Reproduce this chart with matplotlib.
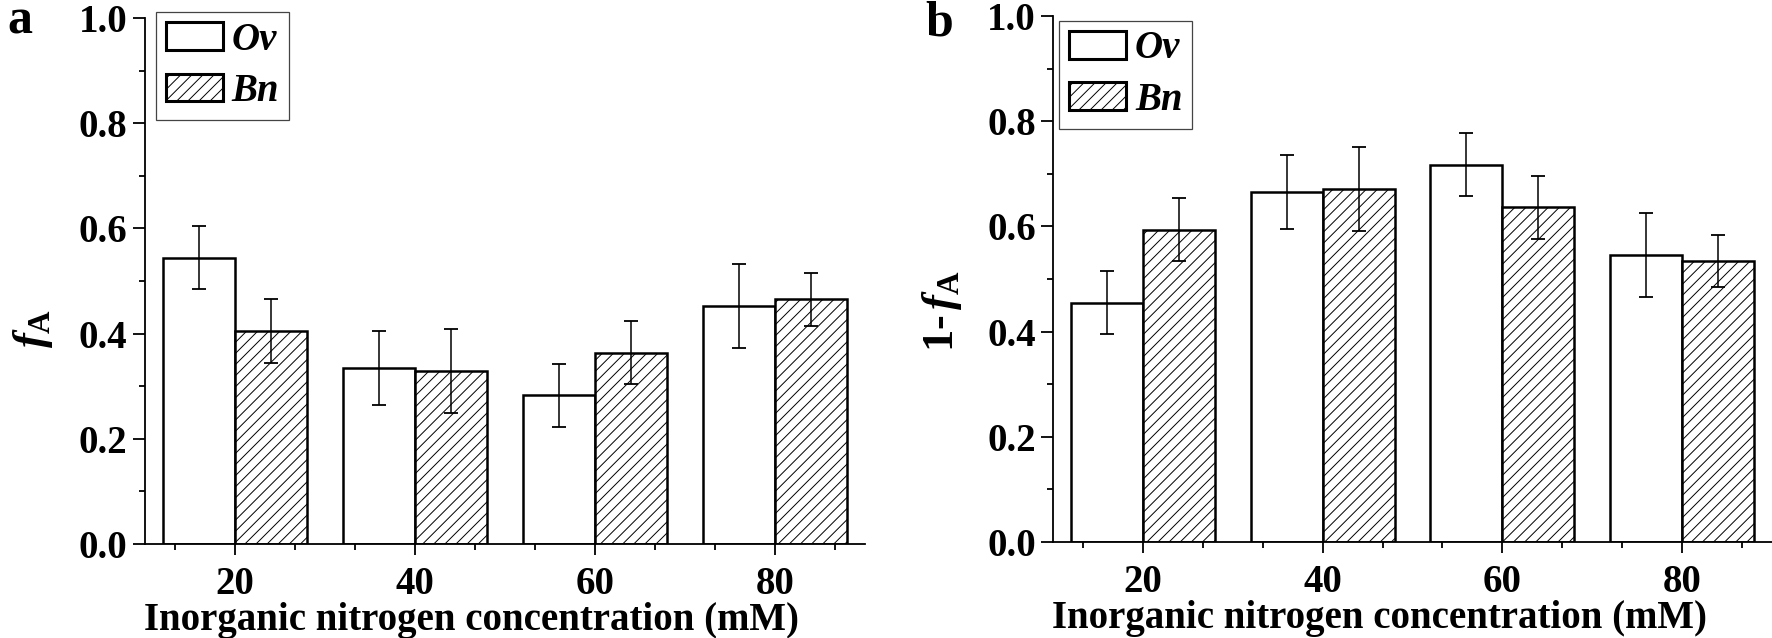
import numpy as np
import matplotlib
matplotlib.use("Agg")
import matplotlib.pyplot as plt
from matplotlib.ticker import FixedLocator, MultipleLocator, FormatStrFormatter

# ---- data ----
conc = [20, 40, 60, 80]
conc_ticklabels = ["20", "40", "60", "80"]
series_names = ["Ov", "Bn"]

ov_fa = [0.544, 0.334, 0.283, 0.453]
ov_fa_err = [0.060, 0.070, 0.060, 0.080]
bn_fa = [0.405, 0.329, 0.364, 0.465]
bn_fa_err = [0.060, 0.080, 0.060, 0.050]

ov_1fa = [0.455, 0.666, 0.717, 0.546]
ov_1fa_err = [0.060, 0.070, 0.060, 0.080]
bn_1fa = [0.594, 0.671, 0.636, 0.534]
bn_1fa_err = [0.060, 0.080, 0.060, 0.050]

xlabel_text = "Inorganic nitrogen concentration (mM)"

# ---- style ----
plt.rcParams['font.family'] = ['Liberation Serif', 'DejaVu Serif']
plt.rcParams['font.weight'] = 'bold'
plt.rcParams['mathtext.fontset'] = 'custom'
plt.rcParams['mathtext.it'] = 'Liberation Serif:italic:bold'
plt.rcParams['mathtext.bf'] = 'Liberation Serif:bold'
plt.rcParams['mathtext.rm'] = 'Liberation Serif:bold'
plt.rcParams['hatch.linewidth'] = 0.7

W, H = 1772, 638
fig = plt.figure(figsize=(W / 100, H / 100), dpi=100)

axA = fig.add_axes([145 / W, 1 - 544 / H, 720 / W, 526 / H])
axB = fig.add_axes([1053.3 / W, 1 - 542 / H, 718.4 / W, 526 / H])

bw = 8
x = np.array(conc, dtype=float)


def draw(ax, ov, ov_err, bn, bn_err, ylabel, label_y, leg_anchor):
    ax.bar(x - bw / 2, ov, width=bw, facecolor='white', edgecolor='black',
           linewidth=1.8, label=series_names[0], zorder=2)
    ax.bar(x + bw / 2, bn, width=bw, facecolor='white', edgecolor='black',
           linewidth=1.8, hatch='///', label=series_names[1], zorder=2)
    ax.errorbar(x - bw / 2, ov, yerr=ov_err, fmt='none', ecolor='black',
                elinewidth=1.1, capsize=5, capthick=1.3, zorder=3)
    ax.errorbar(x + bw / 2, bn, yerr=bn_err, fmt='none', ecolor='black',
                elinewidth=1.1, capsize=5, capthick=1.3, zorder=3)
    ax.set_xlim(10, 90)
    ax.set_ylim(0, 1.0)
    for s in ['top', 'right']:
        ax.spines[s].set_visible(False)
    for s in ['left', 'bottom']:
        ax.spines[s].set_linewidth(1.3)
        ax.spines[s].set_zorder(4)
    ax.xaxis.set_major_locator(FixedLocator(conc))
    ax.set_xticklabels(conc_ticklabels)
    minors = [c + d for c in conc for d in (-20 / 3, 20 / 3)]
    ax.xaxis.set_minor_locator(FixedLocator(minors))
    ax.yaxis.set_major_locator(MultipleLocator(0.2))
    ax.yaxis.set_minor_locator(MultipleLocator(0.1))
    ax.yaxis.set_major_formatter(FormatStrFormatter('%.1f'))
    ax.tick_params(axis='x', which='major', direction='out', length=7.9, width=1.3,
                   labelsize=28, pad=8)
    ax.tick_params(axis='x', which='minor', direction='out', length=4.3, width=1.3)
    ax.tick_params(axis='y', which='major', direction='out', length=8.6, width=1.3,
                   labelsize=28, pad=4)
    ax.tick_params(axis='y', which='minor', direction='out', length=4.3, width=1.3)
    for lab in ax.get_xticklabels() + ax.get_yticklabels():
        lab.set_fontweight('bold')
    ax.set_xlabel(xlabel_text, fontsize=28, fontweight='bold')
    ax.xaxis.set_label_coords(0.454, -0.110)
    ax.set_ylabel(ylabel, fontsize=32, fontweight='bold')
    ax.yaxis.set_label_coords(-0.125, label_y)
    leg = ax.legend(loc='upper left', bbox_to_anchor=leg_anchor, borderaxespad=0,
                    prop={'size': 28, 'weight': 'bold', 'style': 'italic'},
                    handlelength=1.47, handleheight=0.72, handletextpad=0.23,
                    borderpad=0.25, labelspacing=0.37, fancybox=False,
                    framealpha=1, edgecolor='#444444')
    leg.get_frame().set_linewidth(0.9)
    for h in leg.legend_handles:
        h.set_linewidth(2.2)


draw(axA, ov_fa, ov_fa_err, bn_fa, bn_fa_err, r'$f_{\mathbf{A}}$', 0.41, (0.0153, 1.0114))
draw(axB, ov_1fa, ov_1fa_err, bn_1fa, bn_1fa_err, r'1-$\,f_{\mathbf{A}}$', 0.44, (0.008, 0.991))

fig.text(7 / W, 1 + 1 / H, 'a', fontsize=36, fontweight='bold', ha='left', va='top')
fig.text(925 / W, 1 - 1 / H, 'b', fontsize=36, fontweight='bold', ha='left', va='top')

fig.savefig('out.png', dpi=100)
